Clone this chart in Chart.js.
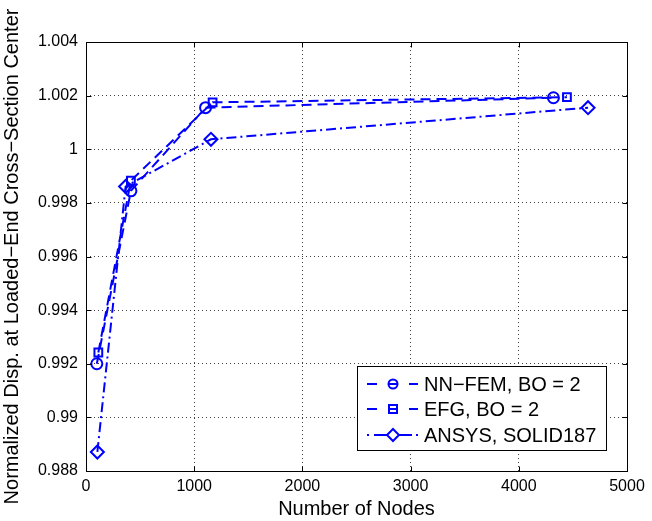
<!DOCTYPE html>
<html>
<head>
<meta charset="utf-8">
<script src="https://cdn.jsdelivr.net/npm/chart.js@4.4.1/dist/chart.umd.min.js"></script>
<style>
  html, body { margin: 0; padding: 0; background: #ffffff; }
  #wrap { width: 652px; height: 521px; position: relative; }
</style>
</head>
<body>
<div id="wrap"><canvas id="c" width="652" height="521"></canvas></div>
<script>
// ---- data ----
const nnfemNodes = [100, 415, 1105, 4320];
const nnfemValues = [0.99200, 0.99845, 1.00155, 1.00192];
const efgNodes = [114, 415, 1170, 4445];
const efgValues = [0.99242, 0.99883, 1.00175, 1.00194];
const ansysNodes = [105, 366, 1155, 4640];
const ansysValues = [0.98871, 0.99861, 1.00037, 1.00155];
const seriesLabels = ['NN\u2212FEM, BO = 2', 'EFG, BO = 2', 'ANSYS, SOLID187'];
const xTicks = [0, 1000, 2000, 3000, 4000, 5000];
const yTicks = [0.988, 0.990, 0.992, 0.994, 0.996, 0.998, 1.000, 1.002, 1.004];
const xTitle = 'Number of Nodes';
const yTitle = 'Normalized Disp. at Loaded\u2212End Cross\u2212Section Center';

const FONT = '"Liberation Sans", Arial, Helvetica, sans-serif';
const BLUE = '#0000ff';

function pts(xs, ys) { return xs.map((x, i) => ({ x: x, y: ys[i] })); }

const dashA = [10, 6];
const dashB = [10, 6];
const dashC = [10, 4, 2, 4];

const datasets = [
  { label: seriesLabels[0], data: pts(nnfemNodes, nnfemValues), borderColor: BLUE, borderWidth: 2,
    borderDash: dashA, pointStyle: 'circle', pointRadius: 5.5, pointBorderWidth: 2,
    pointBorderColor: BLUE, pointBackgroundColor: 'rgba(0,0,0,0)', showLine: true, fill: false },
  { label: seriesLabels[1], data: pts(efgNodes, efgValues), borderColor: BLUE, borderWidth: 2,
    borderDash: dashB, pointStyle: 'rect', pointRadius: 5.5, pointBorderWidth: 2,
    pointBorderColor: BLUE, pointBackgroundColor: 'rgba(0,0,0,0)', showLine: true, fill: false },
  { label: seriesLabels[2], data: pts(ansysNodes, ansysValues), borderColor: BLUE, borderWidth: 2,
    borderDash: dashC, pointStyle: 'rectRot', pointRadius: 6.5, pointBorderWidth: 2,
    pointBorderColor: BLUE, pointBackgroundColor: 'rgba(0,0,0,0)', showLine: true, fill: false }
];

function fmtY(v) { return String(Number(v.toFixed(3))); }

// box, inward ticks and legend (MATLAB style)
const matlabPlugin = {
  id: 'matlab',
  afterDraw(chart) {
    const ctx = chart.ctx;
    const a = chart.chartArea;
    const xs = chart.scales.x, ys = chart.scales.y;
    const L = Math.round(a.left) + 0.5, R = Math.round(a.right) + 0.5;
    const T = Math.round(a.top) + 0.5, B = Math.round(a.bottom) + 0.5;
    ctx.save();
    ctx.strokeStyle = '#000';
    ctx.lineWidth = 1;
    ctx.setLineDash([]);
    ctx.strokeRect(L, T, R - L, B - T);
    const tl = 5;
    ctx.beginPath();
    xTicks.forEach(v => {
      const px = Math.round(xs.getPixelForValue(v)) + 0.5;
      ctx.moveTo(px, B); ctx.lineTo(px, B - tl);
      ctx.moveTo(px, T); ctx.lineTo(px, T + tl);
    });
    yTicks.forEach(v => {
      const py = Math.round(ys.getPixelForValue(v)) + 0.5;
      ctx.moveTo(L, py); ctx.lineTo(L + tl, py);
      ctx.moveTo(R, py); ctx.lineTo(R - tl, py);
    });
    ctx.stroke();

    // legend
    const bx = 357.5, by = 366.5, bw = 249, bh = 84;
    ctx.fillStyle = '#fff';
    ctx.fillRect(bx, by, bw, bh);
    ctx.strokeStyle = '#000';
    ctx.lineWidth = 1;
    ctx.strokeRect(bx, by, bw, bh);
    const rowY = [384, 409, 435];
    chart.data.datasets.forEach((ds, i) => {
      const y = rowY[i];
      const mx = 393;
      ctx.save();
      ctx.strokeStyle = ds.borderColor;
      ctx.lineWidth = 2;
      ctx.setLineDash([]);
      ctx.beginPath();
      if (ds.pointStyle === 'rectRot') {
        ctx.moveTo(367, y); ctx.lineTo(369, y);
        ctx.moveTo(374, y); ctx.lineTo(387, y);
        ctx.moveTo(399, y); ctx.lineTo(412, y);
        ctx.moveTo(416, y); ctx.lineTo(418, y);
      } else {
        ctx.moveTo(367, y); ctx.lineTo(377, y);
        ctx.moveTo(409, y); ctx.lineTo(418, y);
      }
      ctx.stroke();
      ctx.beginPath();
      if (ds.pointStyle === 'circle') {
        ctx.arc(mx, y, 4.5, 0, Math.PI * 2);
        ctx.moveTo(mx - 4, y); ctx.lineTo(mx + 4, y);
      } else if (ds.pointStyle === 'rect') {
        ctx.rect(mx - 4, y - 4, 8, 8);
        ctx.moveTo(mx - 4, y); ctx.lineTo(mx + 4, y);
      } else {
        ctx.moveTo(mx, y - 6); ctx.lineTo(mx + 6, y); ctx.lineTo(mx, y + 6); ctx.lineTo(mx - 6, y); ctx.closePath();
      }
      ctx.stroke();
      ctx.restore();
      ctx.fillStyle = '#000';
      ctx.font = '20px ' + FONT;
      ctx.textAlign = 'left';
      ctx.textBaseline = 'middle';
      ctx.fillText(ds.label, 424, y + 1);
    });
    ctx.restore();
  }
};

new Chart(document.getElementById('c'), {
  type: 'scatter',
  data: { datasets: datasets },
  plugins: [matlabPlugin],
  options: {
    responsive: false,
    animation: false,
    devicePixelRatio: 1,
    layout: { padding: { left: 0, top: 42, right: 25, bottom: 0 } },
    plugins: { legend: { display: false }, tooltip: { enabled: false } },
    scales: {
      x: {
        type: 'linear', min: 0, max: 5000,
        afterBuildTicks(s) { s.ticks = xTicks.map(v => ({ value: v })); },
        afterFit(s) { s.height = 50; },
        grid: { color: 'rgba(0,0,0,0.75)', lineWidth: 1, drawTicks: false },
        border: { display: false, dash: [1, 3] },
        ticks: { color: '#000', font: { family: FONT, size: 16 }, padding: 6, maxRotation: 0,
                 callback: v => String(v) },
        title: { display: true, text: xTitle, color: '#000', font: { family: FONT, size: 20 },
                 padding: { top: 0, bottom: 0 } }
      },
      y: {
        type: 'linear', min: 0.988, max: 1.004,
        afterBuildTicks(s) { s.ticks = yTicks.map(v => ({ value: v })); },
        afterFit(s) { s.width = 86; },
        grid: { color: 'rgba(0,0,0,0.75)', lineWidth: 1, drawTicks: false },
        border: { display: false, dash: [1, 3] },
        ticks: { color: '#000', font: { family: FONT, size: 16 }, padding: 8,
                 callback: v => fmtY(v) },
        title: { display: true, text: yTitle, color: '#000', font: { family: FONT, size: 20 },
                 padding: { top: 0, bottom: 0 } }
      }
    }
  }
});
</script>
</body>
</html>
